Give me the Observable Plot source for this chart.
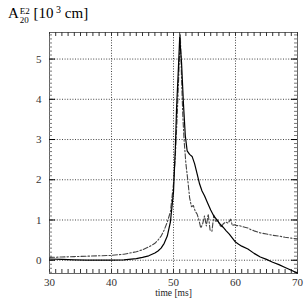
<!DOCTYPE html>
<html><head><meta charset="utf-8">
<script src="https://cdn.jsdelivr.net/npm/d3@7"></script>
<script src="https://cdn.jsdelivr.net/npm/@observablehq/plot@0.6"></script>
<style>
html,body{margin:0;padding:0;background:#fff;}
#wrap{position:relative;width:305px;height:305px;}
#title{position:absolute;left:8px;top:3px;font-family:"Liberation Serif",serif;font-size:15px;color:#000;white-space:nowrap;line-height:20px;}
.stk{display:inline-block;vertical-align:-5px;font-size:9px;line-height:9px;margin-left:1px;}
#xlab{position:absolute;left:0;width:347px;top:288px;text-align:center;font-family:"Liberation Serif",serif;font-size:9.5px;color:#222;}
svg text{font-family:"Liberation Serif",serif !important;}
</style></head>
<body><div id="wrap">
<div id="title">A<span class="stk">E2<br>20</span> [10<sup style="font-size:10px;vertical-align:5px;line-height:0"> 3</sup> cm]</div>
<div id="xlab">time [ms]</div>
</div>
<script>
// solid curve
const tSolid = [30,32,34,36,38,40,42,44,45,46,47,47.5,48,48.5,49,49.5,50,50.3,50.5,50.8,51.0,51.3,51.6,51.9,52.2,52.6,53.0,53.4,53.8,54.2,54.6,55.0,55.5,56,56.5,57,57.5,58,58.5,59,59.5,60,60.5,61,62,63,64,65,66,67,68,69,70];
const vSolid = [0.03,0.02,0.01,0.0,0.0,0.0,0.01,0.04,0.07,0.11,0.18,0.23,0.3,0.42,0.6,0.95,1.7,2.8,3.8,4.8,5.55,4.9,3.9,3.1,2.72,2.63,2.58,2.4,2.15,1.9,1.72,1.6,1.42,1.25,1.1,1.0,0.9,0.82,0.73,0.65,0.55,0.45,0.4,0.35,0.28,0.17,0.08,0.02,-0.05,-0.11,-0.18,-0.25,-0.32];
// dash-dot curve
const tDash = [30,32,34,36,38,40,42,44,45,46,47,47.5,48,48.5,49,49.5,50,50.3,50.6,50.9,51.1,51.3,51.5,51.7,52.0,52.3,52.6,52.9,53.2,53.5,53.8,54.1,54.4,54.7,55.0,55.3,55.6,55.9,56.2,56.5,56.8,57.1,57.4,57.7,58.0,58.4,58.8,59.2,59.5,59.8,60.2,60.6,61,61.5,62,62.5,63,64,65,66,67,68,69,70];
const vDash = [0.07,0.08,0.09,0.1,0.11,0.12,0.15,0.21,0.26,0.33,0.42,0.5,0.6,0.75,0.95,1.2,1.9,2.6,3.6,4.8,5.62,4.5,3.6,3.0,2.4,2.0,1.55,1.33,1.36,1.22,1.15,1.0,0.8,0.9,1.1,0.85,1.15,0.75,0.72,1.12,0.95,1.0,0.9,0.82,0.9,0.95,0.92,1.02,0.86,0.88,0.86,0.86,0.84,0.82,0.8,0.76,0.73,0.68,0.65,0.62,0.6,0.57,0.55,0.53];
// ticks
const xMajor = [30,40,50,60,70];
const xGrid = [40,50,60];
const xMinor = d3.range(30,70.5,1);
const yMajor = [0,1,2,3,4,5];
const yMinor = d3.range(-3,57).map(i=>i/10);

const solid = tSolid.map((t,i)=>({t, v:vSolid[i]}));
const dash = tDash.map((t,i)=>({t, v:vDash[i]}));

const W=305,H=305,mL=49,mR=8,mT=32,mB=32;
const iw=W-mL-mR, ih=H-mT-mB;
const font = "Liberation Serif";

const chart = Plot.plot({
  width:W, height:H, marginLeft:mL, marginRight:mR, marginTop:mT, marginBottom:mB,
  style:{fontFamily:font, background:"transparent"},
  x:{domain:[30,70]},
  y:{domain:[-0.33,5.66]},
  marks:[
    Plot.ruleX(xGrid,{x:d=>d, stroke:"#444", strokeDasharray:"1,1.6", strokeWidth:1}),
    Plot.ruleY(yMajor,{y:d=>d, stroke:"#444", strokeDasharray:"1,1.6", strokeWidth:1}),
    Plot.frame({stroke:"#666"}),
    Plot.tickX(xMinor,{x:d=>d, insetTop:ih-4, stroke:"#333"}),
    Plot.tickX(xMinor,{x:d=>d, insetBottom:ih-4, stroke:"#333"}),
    Plot.tickY(yMinor,{y:d=>d, insetRight:iw-3, stroke:"#777"}),
    Plot.tickY(yMinor,{y:d=>d, insetLeft:iw-3, stroke:"#777"}),
    Plot.tickY(yMajor,{y:d=>d, insetRight:iw-6, stroke:"#000"}),
    Plot.tickY(yMajor,{y:d=>d, insetLeft:iw-6, stroke:"#000"}),
    Plot.line(dash,{x:"t", y:"v", stroke:"#444", strokeWidth:1.1, strokeDasharray:"5,2,1.5,2"}),
    Plot.line(solid,{x:"t", y:"v", stroke:"#000", strokeWidth:1.2}),
    Plot.axisX(xMajor,{tickSize:0, tickPadding:5, fontSize:11, fontFamily:font, fill:"#333", label:null}),
    Plot.axisY(yMajor,{tickSize:0, tickPadding:8, fontSize:11, fontFamily:font, fill:"#333", label:null})
  ]
});
document.getElementById("wrap").prepend(chart);
chart.style.position="absolute"; chart.style.left="0"; chart.style.top="0";
</script>
</body></html>
